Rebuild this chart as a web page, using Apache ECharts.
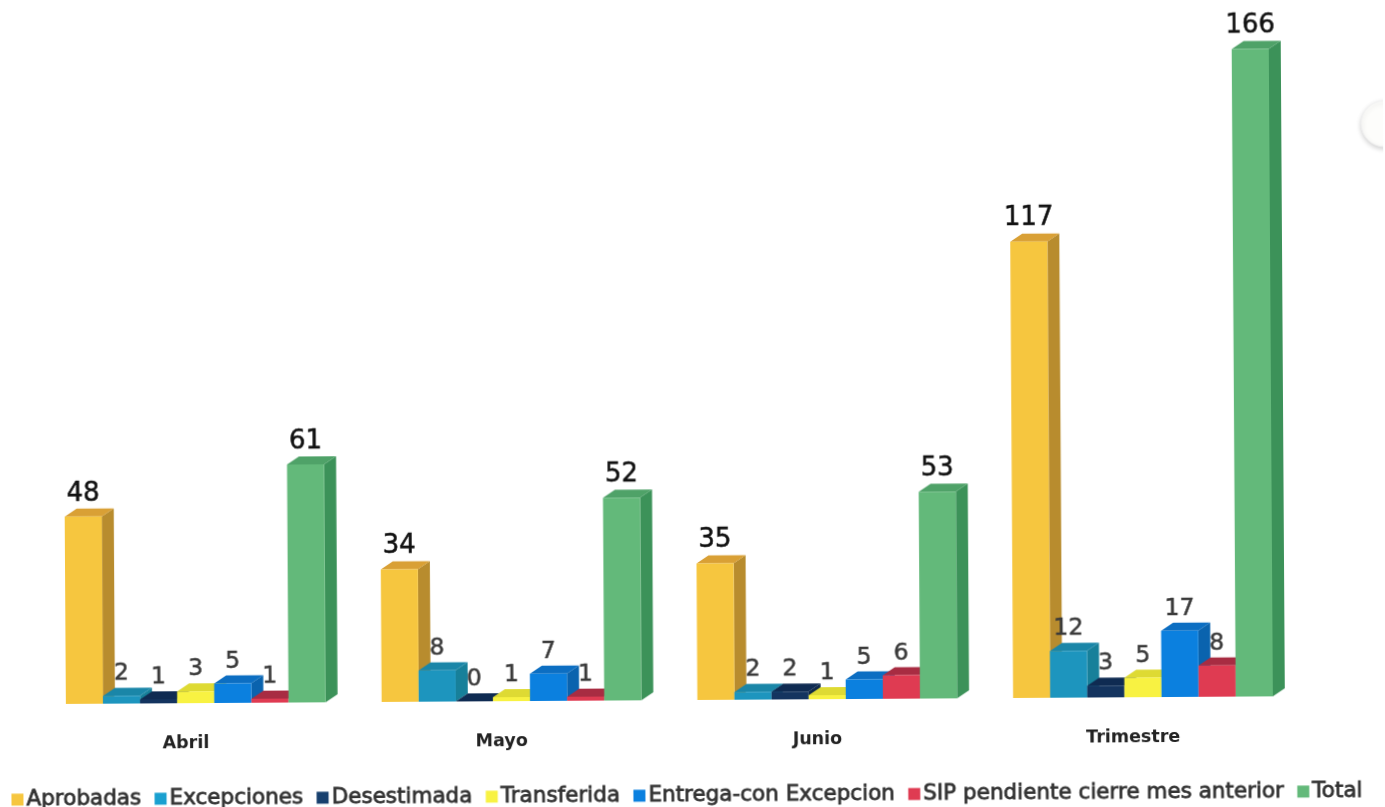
<!DOCTYPE html>
<html>
<head>
<meta charset="utf-8">
<style>
html,body{margin:0;padding:0;background:#fff;overflow:hidden}
#main{width:1385px;height:807px;transform:rotate(-0.36deg);transform-origin:50% 50%}
</style>
<script src="https://cdn.jsdelivr.net/npm/echarts@6/dist/echarts.min.js"></script>
</head>
<body>
<div id="main"></div>
<script>
var categories = ['Abril', 'Mayo', 'Junio', 'Trimestre'];
var aprobadas = [48, 34, 35, 117];
var excepciones = [2, 8, 2, 12];
var desestimada = [1, 0, 2, 3];
var transferida = [3, 1, 1, 5];
var entrega = [5, 7, 5, 17];
var sip = [1, 1, 6, 8];
var total = [61, 52, 53, 166];

var seriesNames = ['Aprobadas', 'Excepciones', 'Desestimada', 'Transferida', 'Entrega-con Excepcion', 'SIP pendiente cierre mes anterior', 'Total'];
var seriesValues = [aprobadas, excepciones, desestimada, transferida, entrega, sip, total];
var frontColors = ['#F6C63F', '#1D95BE', '#14345F', '#F8F242', '#0B80DF', '#DF3B52', '#63B97A'];
var topColors = ['#D9A035', '#1A86A8', '#0F2B52', '#DEDA33', '#0C6EC2', '#A82C42', '#4FA268'];
var sideColors = ['#B88C2E', '#17809A', '#0E2747', '#C9C52C', '#0A63AE', '#B02F45', '#3C9259'];
var legendColors = ['#F6C63F', '#1AA0D0', '#17406E', '#F8F242', '#0B80DF', '#DF3B52', '#63B97A'];

var DX = 12, DY = 8, BAR_RATIO = 37.1 / 315.7;

function renderer(si) {
  return function (params, api) {
    var cat = api.value(0), val = api.value(1);
    var band = api.size([1, 0])[0];
    var w = band * BAR_RATIO;
    var c = api.coord([cat, val]);
    var b = api.coord([cat, 0]);
    var x0 = c[0] - 3.5 * w + si * w, x1 = x0 + w, yt = c[1], yb = b[1];
    var big = si === 0 || si === 6;
    return {
      type: 'group',
      children: [
        { type: 'polygon', shape: { points: [[x1, yb], [x1 + DX, yb - DY], [x1 + DX, yt - DY], [x1, yt]] }, style: { fill: sideColors[si] } },
        { type: 'polygon', shape: { points: [[x0, yt], [x0 + DX, yt - DY], [x1 + DX, yt - DY], [x1, yt]] }, style: { fill: topColors[si] } },
        { type: 'rect', shape: { x: x0, y: yt, width: w, height: yb - yt }, style: { fill: frontColors[si] } },
        { type: 'text', z2: 50, style: {
            text: String(val), x: (x0 + x1) / 2, y: yt - DY - (big ? 15 : 14),
            align: 'center', verticalAlign: 'middle',
            font: (big ? '26px' : '23.5px') + ' "DejaVu Sans"',
            fill: big ? '#111111' : '#3a3a3a',
            stroke: big ? '#111111' : '#3a3a3a', lineWidth: 0.5
          } }
      ]
    };
  };
}

var series = seriesNames.map(function (name, si) {
  return {
    name: name,
    type: 'custom',
    renderItem: renderer(si),
    encode: { x: 0, y: 1 },
    clip: false,
    z: 2 + si,
    itemStyle: { color: legendColors[si] },
    data: seriesValues[si].map(function (v, i) { return [i, v]; })
  };
});

var chart = echarts.init(document.getElementById('main'), null, { renderer: 'canvas' });
chart.setOption({
  animation: false,
  backgroundColor: '#ffffff',
  grid: { left: 36, top: 37, width: 1263, height: 663 },
  xAxis: {
    type: 'category',
    data: categories,
    axisLine: { show: false },
    axisTick: { show: false },
    splitLine: { show: false },
    axisLabel: { margin: 31, padding: [0, 20, 0, 0], fontFamily: 'DejaVu Sans', fontWeight: 'bold', fontSize: 17.5, color: '#222222' }
  },
  yAxis: { type: 'value', min: 0, max: 170, show: false },
  legend: {
    left: 9, top: 784,
    padding: 0,
    itemGap: 13, itemWidth: 12, itemHeight: 12, icon: 'rect',
    selectedMode: false,
    textStyle: { fontFamily: 'DejaVu Sans', fontSize: 21.5, color: '#333333', textBorderColor: '#333333', textBorderWidth: 0.8, padding: [0, 0, 0, -2] },
    data: seriesNames
  },
  graphic: [{
    type: 'circle', silent: true,
    shape: { cx: 1386, cy: 128, r: 23 },
    style: { fill: '#fdfdfb', stroke: '#f2f2f2', lineWidth: 1, shadowBlur: 5, shadowColor: 'rgba(0,0,0,0.18)', shadowOffsetY: 2 }
  }],
  series: series
});
</script>
</body>
</html>
